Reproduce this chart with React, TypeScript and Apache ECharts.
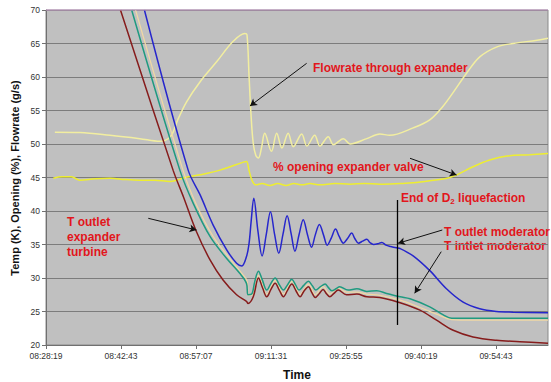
import React, { useEffect, useRef } from "react";
import * as echarts from "echarts";

// time axis: minutes after 08:28:19
const tickLabels = ["08:28:19", "08:42:43", "08:57:07", "09:11:31", "09:25:55", "09:40:19", "09:54:43"];
const TICK_STEP = 14.4;
const X_MAX = 96.4;

const flowT = [1.7, 6.5, 12.3, 18.0, 21.9, 22.8, 24.1, 25.3, 27.0, 29.6, 32.8, 35.9, 38.2, 38.6, 39.0, 39.4, 39.8, 40.3, 40.8, 41.4, 42.0, 43.3, 44.3, 45.3, 46.5, 47.5, 49.1, 50.1, 51.6, 52.6, 54.2, 55.2, 57.1, 58.4, 61.6, 64.1, 66.0, 70.5, 73.7, 76.2, 78.1, 80.8, 83.3, 86.6, 89.7, 94.3, 96.4];
const flowV = [51.75, 51.7, 51.3, 50.8, 50.4, 50.5, 51.3, 53.6, 56.3, 59.3, 62.3, 65.3, 66.5, 66.3, 60.0, 54.0, 50.1, 48.3, 47.9, 49.5, 51.6, 48.9, 51.6, 49.4, 51.6, 49.6, 51.5, 49.7, 51.3, 49.7, 51.1, 49.9, 50.8, 50.0, 50.8, 51.5, 51.3, 52.4, 53.6, 55.6, 57.6, 60.6, 63.0, 64.5, 65.0, 65.5, 65.8];

const openT = [1.4, 3.1, 4.9, 6.5, 9.4, 12.3, 15.2, 18.0, 20.9, 23.8, 26.7, 29.6, 33.4, 37.9, 38.5, 39.0, 39.6, 40.3, 41.5, 43.0, 44.5, 46.1, 47.6, 49.2, 50.7, 52.6, 55.5, 58.4, 61.2, 64.1, 68.0, 70.5, 73.7, 77.0, 78.9, 82.0, 85.2, 88.5, 92.9, 96.4];
const openV = [44.9, 45.1, 45.1, 44.6, 44.8, 44.9, 44.7, 44.6, 44.6, 44.4, 45.0, 45.4, 46.1, 47.3, 47.4, 46.0, 44.5, 43.9, 44.1, 43.8, 44.1, 43.8, 44.1, 43.9, 44.1, 43.9, 44.1, 44.0, 44.1, 44.0, 44.1, 44.2, 44.5, 44.9, 45.4, 46.6, 47.6, 48.2, 48.4, 48.6];

const outModT = [18.9, 27.3, 29.6, 32.1, 34.7, 36.6, 37.6, 38.5, 39.0, 39.4, 39.9, 40.7, 41.5, 42.3, 43.1, 43.9, 44.7, 45.5, 46.3, 47.1, 47.8, 48.6, 49.4, 50.2, 51.0, 51.7, 52.5, 53.3, 54.0, 54.8, 55.6, 56.3, 57.1, 57.9, 58.7, 59.3, 60.0, 60.8, 61.6, 62.2, 62.9, 63.7, 64.5, 65.3, 66.2, 67.3, 68.0, 70.5, 73.7, 76.9, 80.1, 83.3, 86.5, 89.7, 96.4];
const outModV = [70, 46.1, 42.4, 37.9, 34.2, 32.2, 31.8, 33.2, 35.2, 38.5, 41.9, 37.0, 33.3, 36.5, 39.9, 36.5, 33.7, 36.5, 39.3, 36.5, 34.0, 36.5, 38.7, 36.5, 34.6, 36.4, 38.0, 36.4, 34.9, 36.0, 37.3, 36.2, 35.2, 35.9, 36.7, 35.9, 35.2, 35.5, 35.8, 35.3, 35.0, 35.1, 35.3, 34.9, 34.7, 34.5, 34.4, 33.3, 31.1, 28.4, 26.4, 25.4, 25.0, 24.9, 24.8];

const inModT = [16.45, 25.7, 28.3, 31.5, 34.7, 37.2, 38.5, 38.8, 39.5, 40.1, 40.8, 41.5, 42.4, 43.2, 44.0, 44.8, 45.6, 46.4, 47.2, 47.9, 48.6, 49.5, 50.4, 51.1, 51.8, 52.7, 53.6, 54.2, 54.9, 55.7, 56.4, 58.0, 59.7, 61.6, 63.5, 65.4, 68.0, 69.9, 73.7, 76.3, 77.9, 82.0, 96.4];
const inModV = [70, 46.1, 41.1, 36.2, 32.9, 30.7, 29.2, 27.5, 27.6, 29.5, 31.0, 29.8, 28.2, 29.2, 30.0, 29.0, 28.2, 29.0, 29.8, 29.0, 28.2, 28.9, 29.5, 28.9, 28.2, 28.7, 29.1, 28.6, 28.1, 28.4, 28.7, 28.2, 28.4, 28.0, 28.1, 27.7, 27.2, 26.9, 25.7, 24.5, 24.0, 24.0, 24.0];

const creamT = [17.2, 26.3, 28.8, 32.1, 35.3, 37.8, 38.6, 38.9, 39.8, 40.8, 42.4, 44.0, 45.6, 47.2, 48.8, 50.4, 51.7, 53.2, 54.5, 56.1, 57.7, 59.7, 61.6, 64.1, 68.0, 71.8, 75.0, 77.9, 82.0, 96.4];
const creamV = [70, 46.1, 41.1, 36.2, 32.9, 30.5, 29.6, 27.4, 27.6, 30.4, 27.6, 29.6, 27.6, 29.5, 27.6, 29.1, 27.5, 28.7, 27.6, 28.5, 27.9, 27.9, 27.6, 27.4, 26.7, 25.6, 24.6, 23.8, 23.7, 23.7];

const turbT = [14.3, 24.4, 26.4, 28.9, 31.5, 34.0, 36.6, 38.5, 38.8, 39.8, 40.8, 41.6, 42.4, 43.2, 44.0, 44.8, 45.6, 46.4, 47.2, 48.0, 48.8, 49.5, 50.4, 51.0, 51.7, 52.5, 53.2, 53.9, 54.5, 55.3, 56.1, 57.7, 59.7, 61.6, 64.1, 68.0, 71.8, 75.0, 78.2, 82.0, 86.5, 91.0, 96.4];
const turbV = [70, 46.1, 42.1, 36.9, 32.7, 29.7, 27.5, 26.5, 26.2, 27.2, 30.0, 28.5, 27.2, 28.3, 29.2, 28.2, 27.2, 28.2, 29.1, 28.1, 27.2, 28.0, 28.7, 27.9, 27.1, 27.7, 28.3, 27.6, 27.2, 27.7, 28.2, 27.5, 27.6, 27.2, 27.1, 26.3, 25.2, 23.7, 22.2, 21.2, 20.7, 20.5, 20.25];

// annotation arrows [x1, y1, x2, y2] in data units
const arrows = [
  [50.05, 62.04, 39.17, 55.67],
  [69.9, 47.87, 78.85, 45.37],
  [19.64, 38.91, 28.9, 37.16],
  [76.1, 37.16, 67.6, 35.18],
  [75.9, 33.93, 70.8, 27.72],
];
const endLine = [67.4, 41.64, 67.4, 22.99];

const zip = (t: number[], v: number[]) => t.map((x, i) => [x, v[i]]);

export default function App() {
  const ref = useRef<HTMLDivElement>(null);
  useEffect(() => {
    document.body.style.margin = "0";
    const chart = echarts.init(ref.current!, null, { renderer: "svg" });
    const FONT = "Liberation Sans, Arial, sans-serif";
    const RED = "#e2161c";
    const lineS = (name: string, t: number[], v: number[], color: string, width: number, extra: any = {}) => ({
      name,
      type: "line",
      data: zip(t, v),
      showSymbol: false,
      smooth: 0.35,
      lineStyle: { color, width },
      itemStyle: { color },
      silent: true,
      ...extra,
    });
    const markData = arrows.map((a) => [{ coord: [a[0], a[1]] }, { coord: [a[2], a[3]] }]);
    const redText = (text: string, x: number, y: number) => ({
      type: "text",
      x,
      y,
      style: { text, fill: RED, font: `bold 12px ${FONT}`, textVerticalAlign: "middle" },
    });
    chart.setOption({
      animation: false,
      backgroundColor: "#ffffff",
      grid: { left: 46, top: 10, right: 3, bottom: 37, show: true, backgroundColor: "#c0c0c0", borderColor: "#8a8a8a", borderWidth: 1 },
      xAxis: {
        type: "value",
        min: 0,
        max: X_MAX,
        interval: TICK_STEP,
        axisLine: { lineStyle: { color: "#707070" } },
        axisTick: { show: true, length: 4, lineStyle: { color: "#707070" } },
        splitLine: { show: false },
        axisLabel: {
          color: "#333",
          fontSize: 8.5,
          fontFamily: FONT,
          margin: 6,
          showMaxLabel: false,
          formatter: (v: number) => {
            const i = Math.round(v / TICK_STEP);
            return Math.abs(v - i * TICK_STEP) < 0.01 && i < tickLabels.length ? tickLabels[i] : "";
          },
        },
      },
      yAxis: {
        type: "value",
        min: 20,
        max: 70,
        interval: 5,
        axisLine: { show: true, lineStyle: { color: "#707070" } },
        axisTick: { show: true, length: 4, lineStyle: { color: "#707070" } },
        splitLine: { show: true, lineStyle: { color: "#7c7c7c", width: 1 } },
        axisLabel: { color: "#333", fontSize: 8.5, fontFamily: FONT, margin: 6 },
      },
      series: [
        lineS("Flowrate through expander", flowT, flowV, "#f2eea0", 1.5),
        lineS("% opening expander valve", openT, openV, "#eeee30", 1.5),
        lineS("T outlet moderator", outModT, outModV, "#2626cc", 1.5, {
          markLine: {
            silent: true,
            symbol: ["none", "arrow"],
            symbolSize: [6, 7],
            label: { show: false },
            lineStyle: { color: "#111", width: 1, type: "solid" },
            data: markData,
          },
        }),
        lineS("T outlet expander (cream)", creamT, creamV, "#f0d8a4", 1.2),
        lineS("T intlet moderator", inModT, inModV, "#1f9a80", 1.5),
        lineS("T outlet expander turbine", turbT, turbV, "#861c1c", 1.5, {
          markLine: {
            silent: true,
            symbol: ["none", "none"],
            label: { show: false },
            lineStyle: { color: "#000", width: 1.3, type: "solid" },
            data: [[{ coord: [endLine[0], endLine[1]] }, { coord: [endLine[2], endLine[3]] }]],
          },
        }),
      ],
      graphic: [
        { type: "line", shape: { x1: 46, y1: 10, x2: 548, y2: 10 }, style: { stroke: "#c69ac8", lineWidth: 1 }, z: 10 },
        {
          type: "text",
          x: 15,
          y: 178,
          rotation: Math.PI / 2,
          style: { text: "Temp (K), Opening (%), Flowrate (g/s)", fill: "#111", font: `bold 11px ${FONT}`, textAlign: "center", textVerticalAlign: "middle" },
        },
        {
          type: "text",
          x: 297,
          y: 375,
          style: { text: "Time", fill: "#111", font: `bold 12px ${FONT}`, textAlign: "center", textVerticalAlign: "middle" },
        },
        redText("Flowrate through expander", 313, 68),
        redText("% opening expander valve", 273, 167),
        redText("T outlet", 67, 222),
        redText("expander", 67, 237),
        redText("turbine", 67, 252),
        redText("T outlet moderator", 444, 232),
        redText("T intlet moderator", 444, 246),
        {
          type: "text",
          x: 401,
          y: 198,
          style: {
            text: "End of D{sub|2} liquefaction",
            fill: RED,
            font: `bold 12px ${FONT}`,
            textVerticalAlign: "middle",
            rich: { sub: { fontSize: 8, fontWeight: "bold", fontFamily: FONT, fill: RED, padding: [6, 0, 0, 0] } },
          },
        },
      ],
    });
    return () => chart.dispose();
  }, []);
  return <div ref={ref} style={{ width: 551, height: 382 }} />;
}
